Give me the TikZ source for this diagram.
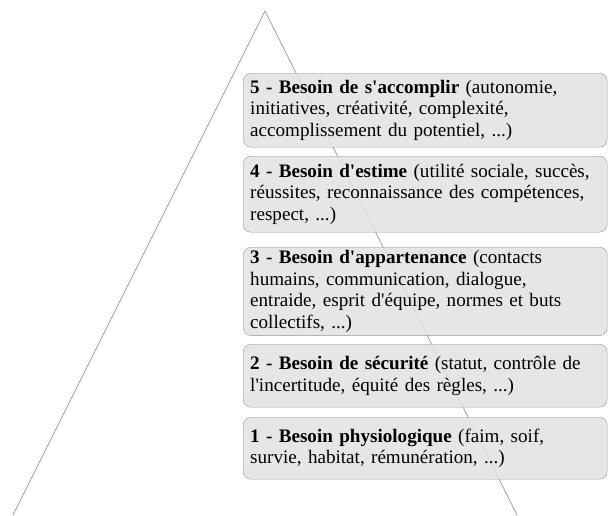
\documentclass[tikz,border=0pt]{standalone}
\usepackage{fontspec}
\setmainfont{Liberation Serif}[Ligatures=TeXOff]
\definecolor{boxfill}{RGB}{226, 226, 226}
\definecolor{boxline}{RGB}{150, 150, 150}
\definecolor{pyramid}{RGB}{160, 160, 160}
\usetikzlibrary{positioning}
\tikzset{
  needbox/.style={draw=boxline, fill=boxfill, fill opacity=0.85, text opacity=1,
    rounded corners=8pt, anchor=north west, align=left, text width=350pt,
    minimum width=364pt, inner xsep=7pt, inner ysep=3pt,
    font=\fontsize{19.1}{21.7}\selectfont},
}

\begin{document}
\begin{tikzpicture}[x=1pt,y=-1pt]
  \useasboundingbox (0,0) rectangle (608,515);
  % pyramid
  \coordinate (top) at (265,11);
  \coordinate (left) at (13,515);
  \coordinate (right) at (517,515);
  \draw[pyramid, line width=0.8pt] (left) -- (top) -- (right);
  % levels
  \node[needbox, minimum height=74pt] (n5) at (243,73) {\textbf{5 - Besoin de s'accomplir} (autonomie,\\
    initiatives, créativité, complexité,\\
    accomplissement du potentiel, ...)};
  \node[needbox, minimum height=76pt] (n4) at (243,156) {\textbf{4 - Besoin d'estime} (utilité sociale, succès,\\
    réussites, reconnaissance des compétences,\\
    respect, ...)};
  \node[needbox, minimum height=86pt] (n3) at (243,247) {\textbf{3 - Besoin d'appartenance} (contacts\\
    humains, communication, dialogue,\\
    entraide, esprit d'équipe, normes et buts\\
    collectifs, ...)};
  \node[needbox, minimum height=63pt] (n2) at (243,344) {\textbf{2 - Besoin de sécurité} (statut, contrôle de\\
    l'incertitude, équité des règles, ...)};
  \node[needbox, minimum height=62pt] (n1) at (243,417) {\textbf{1 - Besoin physiologique} (faim, soif,\\
    survie, habitat, rémunération, ...)};
\end{tikzpicture}
\end{document}
